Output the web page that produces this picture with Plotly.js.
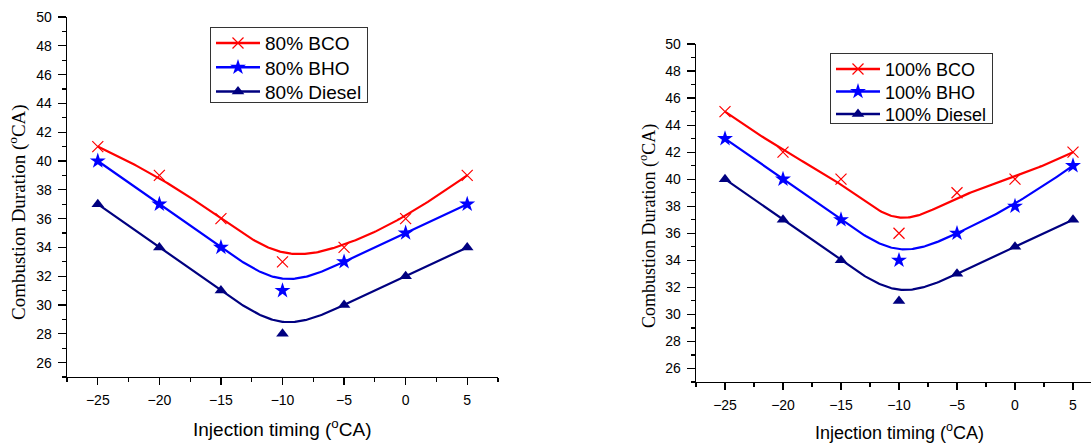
<!DOCTYPE html>
<html>
<head>
<meta charset="utf-8">
<script src="https://cdn.plot.ly/plotly-3.0.1.min.js"></script>
<style>
html,body{margin:0;padding:0;overflow:hidden;background:#fff;}
#chart{width:1105px;height:443px;}
</style>
</head>
<body>
<div id="chart"></div>
<script>
// ---- data ----
const injectionTiming = [-25, -20, -15, -10, -5, 0, 5];

const names80 = ["80% BCO", "80% BHO", "80% Diesel"];
const bco80 = [41, 39, 36, 33, 34, 36, 39];
const bho80 = [40, 37, 34, 31, 33, 35, 37];
const diesel80 = [37, 34, 31, 28, 30, 32, 34];

const names100 = ["100% BCO", "100% BHO", "100% Diesel"];
const bco100 = [45, 42, 40, 36, 39, 40, 42];
const bho100 = [43, 40, 37, 34, 36, 38, 41];
const diesel100 = [40, 37, 34, 31, 33, 35, 37];

const yTickVals = [26, 28, 30, 32, 34, 36, 38, 40, 42, 44, 46, 48, 50];
const xTickVals = [-25, -20, -15, -10, -5, 0, 5];

// ---- clamped cubic B-spline using the data points as control points (Origin "B-Spline" connect) ----
function bspline(xs, ys, samples) {
  const n = xs.length, k = 3;
  const knots = [];
  for (let i = 0; i <= k; i++) knots.push(0);
  for (let i = 1; i <= n - k - 1; i++) knots.push(i);
  for (let i = 0; i <= k; i++) knots.push(n - k);
  const tMax = n - k;
  const outX = [], outY = [];
  for (let q = 0; q <= samples; q++) {
    const t = tMax * q / samples;
    let s = k;
    while (s < n - 1 && !(t >= knots[s] && t < knots[s + 1])) s++;
    const dx = [], dy = [];
    for (let j = 0; j <= k; j++) { dx.push(xs[j + s - k]); dy.push(ys[j + s - k]); }
    for (let r = 1; r <= k; r++) {
      for (let j = k; j >= r; j--) {
        const i = j + s - k;
        const den = knots[i + 1 + k - r] - knots[i];
        const a = den === 0 ? 0 : (t - knots[i]) / den;
        dx[j] = (1 - a) * dx[j - 1] + a * dx[j];
        dy[j] = (1 - a) * dy[j - 1] + a * dy[j];
      }
    }
    outX.push(dx[k]); outY.push(dy[k]);
  }
  return {x: outX, y: outY};
}

const colors = ["#FF0000", "#0000FF", "#000080"];
const markers = [
  {symbol: "x-thin-open", size: 11, color: "#FF0000", line: {color: "#FF0000", width: 1.2}},
  {symbol: "star", size: 12, color: "#0000FF", line: {width: 0}},
  {symbol: "triangle-up", size: 11, color: "#000080", line: {width: 0}}
];

const traces = [];
function addSeries(names, series, xa, ya, legendId) {
  series.forEach((ys, idx) => {
    const c = bspline(injectionTiming, ys, 200);
    traces.push({x: c.x, y: c.y, xaxis: xa, yaxis: ya, mode: "lines",
      line: {color: colors[idx], width: 2.2}, showlegend: false, hoverinfo: "skip", legend: legendId});
    traces.push({x: injectionTiming, y: ys, xaxis: xa, yaxis: ya, mode: "lines+markers",
      name: names[idx], legend: legendId,
      line: {color: colors[idx], width: 0.001}, marker: markers[idx]});
  });
}
addSeries(names80, [bco80, bho80, diesel80], "x", "y", "legend");
addSeries(names100, [bco100, bho100, diesel100], "x2", "y2", "legend2");

const W = 1105, H = 443;
const axisFont = {family: "Arial, 'Liberation Sans', sans-serif", size: 14, color: "#000"};

function xAxis(domain, anchor) {
  return {domain: domain, anchor: anchor, range: [-27.5, 7.5], tickvals: xTickVals,
    ticks: "outside", ticklen: 7, tickwidth: 1.2, tickcolor: "#000",
    showline: true, linecolor: "#000", linewidth: 1.3, showgrid: false, zeroline: false,
    tickfont: axisFont, ticklabelstandoff: 3,
    minor: {tick0: -27.5, dtick: 2.5, ticks: "outside", ticklen: 4, tickwidth: 1.2, tickcolor: "#000", showgrid: false},
    fixedrange: true};
}
function yAxis(domain, anchor) {
  return {domain: domain, anchor: anchor, range: [25, 50], tickvals: yTickVals,
    ticks: "outside", ticklen: 8, tickwidth: 1.2, tickcolor: "#000",
    showline: true, linecolor: "#000", linewidth: 1.3, showgrid: false, zeroline: false,
    tickfont: axisFont, ticklabelstandoff: 3,
    minor: {tick0: 25, dtick: 1, ticks: "outside", ticklen: 4, tickwidth: 1.2, tickcolor: "#000", showgrid: false},
    fixedrange: true};
}

const sans = "Arial, 'Liberation Sans', sans-serif";
const serif = "'Times New Roman', 'Liberation Serif', serif";

const layout = {
  width: W, height: H,
  margin: {l: 0, r: 0, t: 0, b: 0},
  paper_bgcolor: "#fff", plot_bgcolor: "#fff",
  showlegend: true,
  xaxis: xAxis([67 / W, 498 / W], "y"),
  yaxis: yAxis([66 / H, 426 / H], "x"),
  xaxis2: xAxis([696 / W, 1102 / W], "y2"),
  yaxis2: yAxis([61 / H, 399 / H], "x2"),
  legend: {x: 210 / W, y: 1 - 27 / H, xanchor: "left", yanchor: "top",
    bordercolor: "#333", borderwidth: 1, bgcolor: "#fff", itemwidth: 44,
    font: {family: sans, size: 19, color: "#000"},
    tracegroupgap: 0, itemclick: false},
  legend2: {x: 830 / W, y: 1 - 53 / H, xanchor: "left", yanchor: "top",
    bordercolor: "#333", borderwidth: 1, bgcolor: "#fff", itemwidth: 44,
    font: {family: sans, size: 18, color: "#000"},
    tracegroupgap: 0, itemclick: false},
  annotations: [
    {text: "Combustion Duration (<sup>o</sup>CA)", textangle: -90, xref: "paper", yref: "paper",
     x: 17 / W, y: 1 - 212 / H, xanchor: "center", yanchor: "middle", showarrow: false,
     font: {family: serif, size: 19, color: "#000"}},
    {text: "Combustion Duration (<sup>o</sup>CA)", textangle: -90, xref: "paper", yref: "paper",
     x: 648 / W, y: 1 - 226 / H, xanchor: "center", yanchor: "middle", showarrow: false,
     font: {family: serif, size: 18, color: "#000"}},
    {text: "Injection timing (<sup>o</sup>CA)", xref: "paper", yref: "paper",
     x: 282 / W, y: 1 - 428 / H, xanchor: "center", yanchor: "middle", showarrow: false,
     font: {family: sans, size: 19, color: "#000"}},
    {text: "Injection timing (<sup>o</sup>CA)", xref: "paper", yref: "paper",
     x: 899 / W, y: 1 - 431 / H, xanchor: "center", yanchor: "middle", showarrow: false,
     font: {family: sans, size: 18, color: "#000"}}
  ]
};

// tighten legend row spacing to match the reference's compact legend boxes
function tightenLegend(cls, firstY, spacing, boxH) {
  const leg = document.querySelector("g." + cls);
  if (!leg) return;
  const items = leg.querySelectorAll("g.traces");
  items.forEach((t, i) => {
    const m = /translate\(\s*([-\d.e]+)[ ,]+([-\d.e]+)\s*\)/.exec(t.getAttribute("transform") || "");
    const x = m ? m[1] : 0;
    t.setAttribute("transform", "translate(" + x + "," + (firstY + i * spacing) + ")");
  });
  const bg = leg.querySelector("rect.bg");
  if (bg) bg.setAttribute("height", boxH);
}

Plotly.newPlot("chart", traces, layout, {staticPlot: true, displayModeBar: false}).then(() => {
  document.querySelectorAll(".legendlines path").forEach(p => {
    p.style.strokeWidth = "2.5px";
  });
  tightenLegend("legend", 16, 24.3, 75);
  tightenLegend("legend2", 16, 22.5, 70);
});
</script>
</body>
</html>
